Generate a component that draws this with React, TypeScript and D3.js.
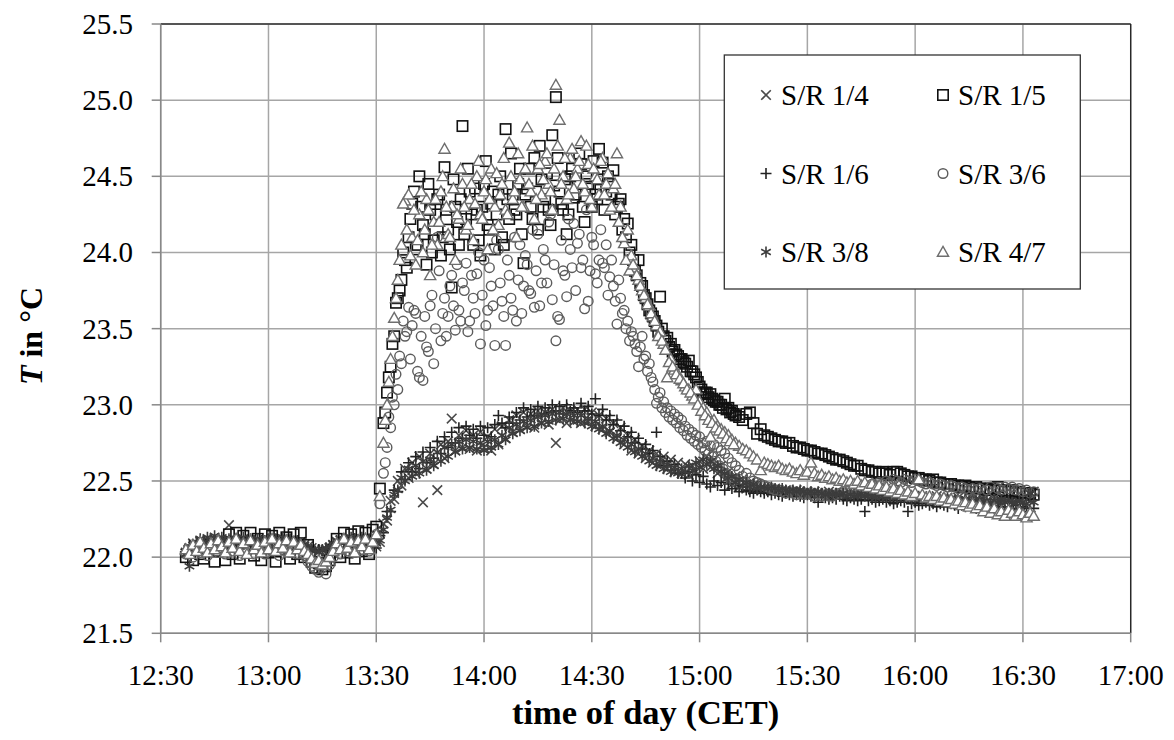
import React from "react";
import * as d3 from "d3";

// sampling grid: one value per minute, first sample 7 minutes after 12:30
const FIRST_MINUTE = 7;
const STEP_MINUTES = 1;
// extra interleaved samples (half a minute later) for the fast-varying part of the upper sensors
const HALF_FIRST_MINUTE = 62.5;

const X_TICK_LABELS = ["12:30", "13:00", "13:30", "14:00", "14:30", "15:00", "15:30", "16:00", "16:30", "17:00"];
const Y_TICKS = [21.5, 22.0, 22.5, 23.0, 23.5, 24.0, 24.5, 25.0, 25.5];

const SR_1_4 = [
  22.03, 22.06, 22.09, 22.07, 22.10, 22.08, 22.11, 22.09, 22.12, 22.10,
  22.08, 22.11, 22.21, 22.09, 22.10, 22.08, 22.11, 22.09, 22.10, 22.08,
  22.11, 22.09, 22.10, 22.10, 22.12, 22.09, 22.11, 22.10, 22.12, 22.10,
  22.11, 22.09, 22.10, 22.08, 22.07, 22.06, 22.05, 22.04, 22.05, 22.04,
  22.06, 22.08, 22.10, 22.11, 22.10, 22.12, 22.11, 22.10, 22.12, 22.11,
  22.10, 22.12, 22.09, 22.07, 22.10, 22.22, 22.24, 22.37, 22.38, 22.50,
  22.47, 22.58, 22.52, 22.62, 22.55, 22.66, 22.36, 22.58, 22.68, 22.61,
  22.44, 22.74, 22.65, 22.76, 22.91, 22.70, 22.80, 22.72, 22.83, 22.71,
  22.80, 22.70, 22.82, 22.72, 22.79, 22.70, 22.84, 22.74, 22.86, 22.78,
  22.90, 22.82, 22.93, 22.84, 22.95, 22.86, 22.94, 22.85, 22.96, 22.88,
  22.95, 22.87, 22.97, 22.75, 22.90, 22.98, 22.88, 22.96, 22.89, 22.97,
  22.88, 22.97, 22.89, 22.95, 22.86, 22.93, 22.84, 22.91, 22.82, 22.88,
  22.78, 22.85, 22.74, 22.80, 22.70, 22.77, 22.68, 22.73, 22.65, 22.70,
  22.62, 22.68, 22.60, 22.66, 22.58, 22.64, 22.56, 22.62, 22.55, 22.61,
  22.54, 22.60, 22.56, 22.63, 22.58, 22.66, 22.59, 22.64, 22.55, 22.60,
  22.51, 22.56, 22.48, 22.53, 22.46, 22.51, 22.45, 22.49, 22.44, 22.48,
  22.45, 22.45, 22.44, 22.44, 22.45, 22.44, 22.43, 22.44, 22.43, 22.43,
  22.44, 22.43, 22.42, 22.43, 22.42, 22.43, 22.42, 22.41, 22.42, 22.43,
  22.42, 22.41, 22.42, 22.41, 22.40, 22.42, 22.41, 22.40, 22.41, 22.42,
  22.41, 22.40, 22.41, 22.40, 22.39, 22.41, 22.40, 22.39, 22.40, 22.41,
  22.40, 22.39, 22.40, 22.39, 22.38, 22.40, 22.39, 22.38, 22.39, 22.40,
  22.39, 22.38, 22.39, 22.38, 22.37, 22.39, 22.38, 22.37, 22.38, 22.39,
  22.38, 22.37, 22.38, 22.37, 22.36, 22.38, 22.37, 22.36, 22.37, 22.38,
  22.37, 22.36, 22.37, 22.36, 22.38, 22.37, 22.43,
];

const SR_1_5 = [
  22.00, 22.04, 21.98, 22.06, 22.02, 21.99, 22.05, 22.08, 21.97, 22.04,
  22.10, 21.98, 22.15, 22.02, 22.16, 21.99, 22.14, 22.06, 22.16, 22.01,
  22.12, 21.98, 22.15, 22.03, 22.14, 21.97, 22.16, 22.05, 22.13, 21.99,
  22.15, 22.02, 22.16, 22.00, 22.08, 21.97, 21.93, 21.96, 21.92, 21.94,
  21.98, 22.05, 22.12, 22.00, 22.16, 22.03, 22.15, 21.99, 22.17, 22.04,
  22.16, 22.02, 22.18, 22.20, 22.45, 22.88, 23.08, 23.25, 23.45, 23.70,
  23.82, 23.95, 24.10, 24.32, 24.02, 24.50, 24.18, 23.92, 24.28, 24.08,
  24.35, 23.98, 24.56, 24.15, 23.77, 24.30, 24.05, 24.83, 24.22, 24.40,
  24.05, 24.28, 23.98, 24.45, 24.18, 24.32, 24.02, 24.38, 24.10, 24.81,
  24.22, 24.38, 24.25, 24.55, 23.93, 24.42, 24.30, 24.62, 24.15, 24.48,
  24.35, 24.28, 24.77, 25.02, 24.40, 24.28, 24.12, 24.50, 24.36, 24.45,
  24.58, 24.20, 24.45, 24.30, 24.38, 24.68, 24.59, 24.40, 24.45, 24.54,
  24.30, 24.35, 24.22, 24.19, 24.05, 23.88, 23.95, 23.78, 23.70, 23.62,
  23.58, 23.52, 23.71, 23.45, 23.44, 23.40, 23.36, 23.32, 23.30, 23.27,
  23.29, 23.22, 23.18, 23.12, 23.07, 23.08, 23.07, 23.03, 23.02, 23.00,
  23.04, 22.98, 22.96, 22.93, 22.92, 22.90, 22.94, 22.95, 22.88, 22.81,
  22.84, 22.80, 22.79, 22.78, 22.77, 22.76, 22.76, 22.75, 22.75, 22.73,
  22.72, 22.72, 22.71, 22.70, 22.70, 22.69, 22.68, 22.68, 22.67, 22.66,
  22.65, 22.64, 22.64, 22.63, 22.62, 22.61, 22.60, 22.60, 22.58, 22.57,
  22.57, 22.56, 22.56, 22.55, 22.56, 22.55, 22.54, 22.56, 22.56, 22.55,
  22.54, 22.53, 22.53, 22.52, 22.52, 22.51, 22.51, 22.50, 22.51, 22.49,
  22.49, 22.48, 22.48, 22.48, 22.47, 22.47, 22.46, 22.47, 22.46, 22.45,
  22.46, 22.45, 22.45, 22.44, 22.45, 22.44, 22.46, 22.44, 22.43, 22.43,
  22.44, 22.42, 22.43, 22.42, 22.42, 22.42, 22.41,
];
const SR_1_5_HALF = [
  22.95, 23.18, 23.40, 23.67, 23.75, 24.00, 23.90, 24.22, 24.40, 24.05,
  24.30, 24.12, 24.45, 24.00, 24.25, 24.38, 24.10, 24.28, 24.02, 24.48,
  24.20, 24.35, 24.12, 24.55, 24.25, 24.42, 24.08, 24.30, 24.60, 24.15,
  24.40, 24.25, 24.50, 24.05, 24.35, 24.65, 24.28, 24.45, 24.12, 24.38,
  24.55, 24.22, 24.40, 24.70, 24.30, 24.52, 24.18, 24.44, 24.62, 24.32,
  24.48, 24.25, 24.55, 24.38, 24.65, 24.30, 24.50, 24.42, 24.60, 24.35,
  24.48, 24.28, 24.50, 24.38, 24.25, 24.32, 24.15, 24.10, 24.00, 23.95,
  23.85, 23.80, 23.72, 23.66, 23.60, 23.55, 23.48, 23.50, 23.42, 23.38,
  23.35, 23.33, 23.30, 23.28, 23.25, 23.22, 23.20, 23.15, 23.10, 23.08,
  23.05, 23.04, 23.02, 23.00, 22.98, 22.97, 22.95, 22.94,
];

const SR_1_6 = [
  22.05, 22.08, 22.07, 22.10, 22.09, 22.11, 22.08, 22.10, 22.09, 22.12,
  22.10, 22.09, 22.11, 22.10, 22.08, 22.10, 22.09, 22.11, 22.08, 22.10,
  22.09, 22.11, 22.08, 22.10, 22.09, 22.11, 22.10, 22.09, 22.11, 22.08,
  22.10, 22.08, 22.09, 22.07, 22.05, 22.04, 22.03, 22.05, 22.04, 22.06,
  22.05, 22.07, 22.09, 22.10, 22.09, 22.11, 22.10, 22.12, 22.10, 22.11,
  22.09, 22.11, 22.10, 22.06, 22.14, 22.16, 22.30, 22.30, 22.44, 22.43,
  22.56, 22.51, 22.62, 22.56, 22.66, 22.58, 22.69, 22.62, 22.72, 22.65,
  22.76, 22.68, 22.79, 22.72, 22.82, 22.75, 22.85, 22.78, 22.86, 22.80,
  22.84, 22.78, 22.86, 22.80, 22.85, 22.79, 22.87, 22.93, 22.88, 22.85,
  22.92, 22.88, 22.95, 22.90, 22.98, 22.92, 22.97, 22.93, 22.99, 22.94,
  22.98, 22.95, 23.00, 22.96, 22.99, 22.94, 23.00, 22.96, 22.98, 22.95,
  23.01, 22.96, 22.99, 22.94, 23.04, 22.93, 22.97, 22.90, 22.93, 22.87,
  22.90, 22.83, 22.86, 22.79, 22.82, 22.75, 22.78, 22.71, 22.74, 22.68,
  22.70, 22.82, 22.66, 22.60, 22.63, 22.57, 22.61, 22.55, 22.55, 22.52,
  22.56, 22.50, 22.54, 22.49, 22.53, 22.48, 22.46, 22.50, 22.47, 22.49,
  22.44, 22.48, 22.45, 22.47, 22.43, 22.46, 22.44, 22.43, 22.42, 22.44,
  22.43, 22.42, 22.43, 22.41, 22.42, 22.41, 22.40, 22.42, 22.41, 22.40,
  22.41, 22.40, 22.39, 22.41, 22.40, 22.39, 22.36, 22.40, 22.39, 22.38,
  22.39, 22.38, 22.40, 22.38, 22.37, 22.39, 22.38, 22.37, 22.38, 22.30,
  22.37, 22.38, 22.36, 22.37, 22.38, 22.36, 22.37, 22.35, 22.36, 22.37,
  22.36, 22.30, 22.35, 22.36, 22.34, 22.35, 22.36, 22.34, 22.35, 22.33,
  22.35, 22.34, 22.33, 22.35, 22.34, 22.32, 22.34, 22.33, 22.35, 22.33,
  22.32, 22.34, 22.33, 22.31, 22.33, 22.34, 22.32, 22.33, 22.31, 22.33,
  22.32, 22.34, 22.31, 22.33, 22.32, 22.30, 22.32,
];

const SR_3_6 = [
  22.02, 22.05, 22.00, 22.06, 22.03, 22.07, 22.01, 22.05, 22.08, 22.03,
  22.06, 22.02, 22.07, 22.04, 22.08, 22.01, 22.06, 22.03, 22.07, 22.02,
  22.05, 22.08, 22.02, 22.06, 22.04, 22.07, 22.01, 22.05, 22.08, 22.03,
  22.06, 22.02, 22.05, 22.01, 21.97, 21.94, 21.92, 21.90, 21.93, 21.89,
  21.95, 22.00, 22.05, 22.02, 22.08, 22.04, 22.07, 22.03, 22.09, 22.05,
  22.08, 22.04, 22.10, 22.15, 22.35, 22.55, 22.72, 22.85, 23.00, 23.10,
  23.27, 23.45, 23.64, 23.52, 23.60, 23.18, 23.16, 23.38, 23.65, 23.27,
  24.10, 23.42, 23.70, 23.58, 23.85, 23.49, 23.62, 23.80, 23.93, 23.55,
  23.70, 23.86, 23.40, 23.95, 23.62, 23.78, 23.39, 24.02, 23.68, 23.39,
  23.85, 23.62, 23.55, 24.05, 23.78, 23.92, 23.73, 23.64, 24.12, 23.80,
  23.95, 24.20, 23.69, 23.42, 23.56, 23.88, 23.71, 24.02, 24.19, 24.06,
  23.90, 23.63, 23.68, 24.10, 23.86, 23.95, 23.93, 24.05, 23.84, 23.78,
  23.53, 23.70, 23.62, 23.55, 23.48, 23.40, 23.25, 23.45, 23.32, 23.27,
  23.15, 23.01, 23.08, 23.02, 22.98, 22.96, 22.94, 22.92, 22.90, 22.86,
  22.84, 22.82, 22.80, 22.79, 22.75, 22.76, 22.73, 22.74, 22.72, 22.70,
  22.68, 22.65, 22.62, 22.60, 22.57, 22.53, 22.55, 22.52, 22.50, 22.49,
  22.48, 22.47, 22.46, 22.45, 22.44, 22.44, 22.43, 22.42, 22.43, 22.42,
  22.41, 22.42, 22.41, 22.42, 22.41, 22.40, 22.41, 22.40, 22.41, 22.40,
  22.40, 22.41, 22.42, 22.43, 22.44, 22.45, 22.44, 22.46, 22.45, 22.47,
  22.46, 22.48, 22.47, 22.49, 22.48, 22.50, 22.49, 22.51, 22.50, 22.49,
  22.51, 22.50, 22.49, 22.51, 22.50, 22.49, 22.48, 22.49, 22.48, 22.47,
  22.48, 22.47, 22.46, 22.47, 22.46, 22.45, 22.46, 22.45, 22.44, 22.45,
  22.44, 22.45, 22.43, 22.44, 22.46, 22.43, 22.45, 22.44, 22.46, 22.45,
  22.46, 22.44, 22.45, 22.43, 22.44, 22.42, 22.43,
];
const SR_3_6_HALF = [
  22.62, 22.92, 23.05, 23.20, 23.32, 23.55, 23.48, 23.30, 23.62, 23.22,
  23.45, 23.58, 23.35, 23.72, 23.50, 23.88, 23.60, 23.45, 23.78, 23.65,
  23.92, 23.55, 23.75, 23.48, 23.85, 23.60, 24.00, 23.72, 23.52, 23.90,
  23.65, 24.08, 23.80, 23.58, 23.95, 23.70, 24.10, 23.82, 23.60, 23.98,
  23.75, 24.15, 23.88, 23.65, 24.02, 23.80, 24.25, 23.92, 23.58, 24.08,
  23.85, 24.22, 23.90, 23.75, 24.12, 23.95, 24.28, 23.88, 24.05, 23.80,
  24.15, 23.90, 23.72, 23.95, 23.68, 23.82, 23.60, 23.50, 23.42, 23.45,
  23.35, 23.38, 23.30, 23.22, 23.18, 23.10, 23.05, 22.98, 22.95, 22.92,
  22.90, 22.88, 22.85, 22.83, 22.80, 22.78, 22.76, 22.74, 22.72, 22.70,
  22.68, 22.66, 22.63, 22.60, 22.58, 22.55, 22.52, 22.50,
];

const SR_3_8 = [
  22.02, 21.94, 22.08, 22.10, 22.12, 22.10, 22.13, 22.11, 22.14, 22.12,
  22.13, 22.11, 22.12, 22.10, 22.12, 22.11, 22.13, 22.10, 22.12, 22.11,
  22.12, 22.10, 22.11, 22.12, 22.10, 22.12, 22.11, 22.13, 22.11, 22.12,
  22.10, 22.11, 22.09, 22.08, 22.06, 22.05, 22.04, 22.03, 22.05, 22.06,
  22.07, 22.09, 22.11, 22.10, 22.12, 22.11, 22.13, 22.12, 22.11, 22.13,
  22.11, 22.12, 22.10, 22.09, 22.11, 22.18, 22.26, 22.31, 22.41, 22.44,
  22.52, 22.50, 22.58, 22.53, 22.60, 22.55, 22.63, 22.57, 22.64, 22.60,
  22.69, 22.63, 22.72, 22.66, 22.74, 22.69, 22.76, 22.71, 22.77, 22.72,
  22.76, 22.71, 22.75, 22.70, 22.76, 22.72, 22.77, 22.74, 22.80, 22.77,
  22.85, 22.81, 22.87, 22.83, 22.89, 22.85, 22.90, 22.86, 22.92, 22.88,
  22.93, 22.89, 22.94, 22.90, 22.95, 22.91, 22.94, 22.90, 22.93, 22.89,
  22.93, 22.88, 22.91, 22.86, 22.89, 22.84, 22.86, 22.81, 22.83, 22.78,
  22.80, 22.75, 22.77, 22.72, 22.74, 22.69, 22.71, 22.66, 22.68, 22.63,
  22.65, 22.60, 22.63, 22.58, 22.61, 22.56, 22.59, 22.55, 22.58, 22.56,
  22.60, 22.57, 22.62, 22.59, 22.64, 22.61, 22.63, 22.58, 22.60, 22.56,
  22.55, 22.52, 22.53, 22.49, 22.51, 22.47, 22.49, 22.46, 22.48, 22.45,
  22.46, 22.46, 22.45, 22.46, 22.45, 22.44, 22.45, 22.44, 22.43, 22.44,
  22.43, 22.44, 22.43, 22.42, 22.43, 22.42, 22.43, 22.42, 22.41, 22.42,
  22.41, 22.42, 22.41, 22.42, 22.40, 22.41, 22.40, 22.41, 22.42, 22.40,
  22.41, 22.40, 22.39, 22.41, 22.40, 22.39, 22.40, 22.41, 22.39, 22.40,
  22.39, 22.40, 22.38, 22.39, 22.40, 22.38, 22.39, 22.37, 22.38, 22.39,
  22.38, 22.37, 22.39, 22.38, 22.37, 22.38, 22.36, 22.38, 22.37, 22.36,
  22.37, 22.38, 22.36, 22.37, 22.35, 22.37, 22.36, 22.38, 22.36, 22.37,
  22.36, 22.35, 22.37, 22.36, 22.35, 22.42, 22.36,
];

const SR_4_7 = [
  22.05, 22.02, 22.08, 22.04, 22.10, 22.06, 22.03, 22.09, 22.05, 22.11,
  22.07, 22.03, 22.10, 22.06, 22.12, 22.04, 22.09, 22.02, 22.11, 22.05,
  22.08, 22.03, 22.10, 22.05, 22.12, 22.04, 22.09, 22.06, 22.11, 22.03,
  22.10, 22.05, 22.08, 22.04, 22.02, 21.99, 21.96, 21.98, 21.95, 21.97,
  22.00, 22.04, 22.09, 22.05, 22.12, 22.06, 22.10, 22.03, 22.11, 22.07,
  22.12, 22.05, 22.10, 22.15, 22.40, 22.75, 23.00, 23.30, 23.57, 23.82,
  24.05, 24.34, 24.38, 24.10, 23.92, 24.25, 24.00, 24.35, 23.85, 24.20,
  24.05, 24.40, 24.68, 24.12, 24.30, 23.95, 24.22, 24.45, 24.15, 24.35,
  24.08, 24.50, 24.25, 24.40, 24.02, 24.55, 24.30, 24.18, 24.45, 24.28,
  24.72, 24.35, 24.10, 24.48, 24.30, 24.82, 24.40, 24.22, 24.55, 24.38,
  24.60, 24.45, 24.28, 25.10, 24.87, 24.50, 24.35, 24.62, 24.42, 24.55,
  24.73, 24.40, 24.58, 24.30, 24.50, 24.38, 24.62, 24.45, 24.28, 24.42,
  24.65, 24.30, 24.06, 24.15, 23.98, 23.90, 23.82, 23.75, 23.70, 23.65,
  23.58, 23.52, 23.48, 23.40, 23.18, 23.30, 23.23, 23.20, 23.16, 23.12,
  23.10, 23.06, 23.10, 23.02, 22.98, 22.95, 22.79, 22.90, 22.86, 22.84,
  22.82, 22.80, 22.77, 22.75, 22.73, 22.71, 22.70, 22.68, 22.66, 22.64,
  22.57, 22.62, 22.61, 22.60, 22.59, 22.60, 22.58, 22.57, 22.58, 22.56,
  22.55, 22.57, 22.54, 22.56, 22.62, 22.55, 22.53, 22.54, 22.52, 22.53,
  22.51, 22.52, 22.50, 22.51, 22.49, 22.50, 22.48, 22.50, 22.47, 22.49,
  22.46, 22.48, 22.45, 22.47, 22.44, 22.46, 22.43, 22.45, 22.42, 22.44,
  22.41, 22.43, 22.40, 22.42, 22.51, 22.41, 22.39, 22.40, 22.38, 22.40,
  22.37, 22.39, 22.36, 22.38, 22.35, 22.37, 22.34, 22.36, 22.33, 22.35,
  22.32, 22.34, 22.30, 22.33, 22.29, 22.32, 22.28, 22.30, 22.27, 22.31,
  22.29, 22.27, 22.30, 22.28, 22.26, 22.29, 22.27,
];
const SR_4_7_HALF = [
  22.90, 23.15, 23.45, 23.70, 23.95, 24.32, 24.15, 23.98, 24.28, 24.08,
  24.40, 24.15, 24.28, 24.05, 24.35, 24.20, 24.50, 24.30, 24.10, 24.42,
  24.25, 24.55, 24.30, 24.18, 24.45, 24.32, 24.60, 24.22, 24.48, 24.35,
  24.15, 24.52, 24.38, 24.62, 24.25, 24.50, 24.40, 24.65, 24.30, 24.55,
  24.45, 24.70, 24.35, 24.58, 24.48, 24.65, 24.40, 24.55, 24.70, 24.45,
  24.62, 24.38, 24.68, 24.50, 24.60, 24.45, 24.70, 24.35, 24.55, 24.48,
  24.60, 24.38, 24.52, 24.30, 24.45, 24.20, 24.10, 23.95, 23.88, 23.92,
  23.85, 23.78, 23.72, 23.66, 23.60, 23.55, 23.45, 23.42, 23.36, 23.28,
  23.25, 23.20, 23.17, 23.14, 23.10, 23.08, 23.04, 23.00, 22.96, 22.93,
  22.90, 22.88, 22.85, 22.83, 22.81, 22.78, 22.76, 22.74,
];

type MarkerKind = "cross" | "square" | "plus" | "circle" | "star" | "triangle";

const SERIES: { name: string; values: number[]; half: number[]; marker: MarkerKind }[] = [
  { name: "S/R 1/4", values: SR_1_4, half: [], marker: "cross" },
  { name: "S/R 1/5", values: SR_1_5, half: SR_1_5_HALF, marker: "square" },
  { name: "S/R 1/6", values: SR_1_6, half: [], marker: "plus" },
  { name: "S/R 3/6", values: SR_3_6, half: SR_3_6_HALF, marker: "circle" },
  { name: "S/R 3/8", values: SR_3_8, half: [], marker: "star" },
  { name: "S/R 4/7", values: SR_4_7, half: SR_4_7_HALF, marker: "triangle" },
];

const FONT = '"Liberation Serif", "Times New Roman", Tinos, "Nimbus Roman", "DejaVu Serif", serif';

function Marker({ kind, cx, cy }: { kind: MarkerKind; cx: number; cy: number }) {
  const t = `translate(${cx},${cy})`;
  switch (kind) {
    case "cross":
      return <path transform={t} d="M-4.8,-4.8L4.8,4.8M-4.8,4.8L4.8,-4.8" stroke="#4a4a4a" strokeWidth={1.6} fill="none" />;
    case "plus":
      return <path transform={t} d="M-5.5,0H5.5M0,-5.5V5.5" stroke="#222" strokeWidth={1.6} fill="none" />;
    case "star":
      return <path transform={t} d="M0,-5.5V5.5M-4.8,-2.8L4.8,2.8M-4.8,2.8L4.8,-2.8" stroke="#3c3c3c" strokeWidth={1.6} fill="none" />;
    case "square":
      return <rect transform={t} x={-5.2} y={-5.2} width={10.4} height={10.4} stroke="#111" strokeWidth={1.6} fill="none" />;
    case "circle":
      return <circle transform={t} r={4.8} stroke="#5c5c5c" strokeWidth={1.4} fill="none" />;
    case "triangle":
      return <path transform={t} d="M0,-5.6L5.6,4.3L-5.6,4.3Z" stroke="#6e6e6e" strokeWidth={1.4} fill="#fff" />;
  }
}

const txt = { fontFamily: FONT };

export default function App() {
  const left = 160.7, right = 1130.7, top = 24, bottom = 633.3;
  const x = d3.scaleLinear().domain([0, 270]).range([left, right]);
  const y = d3.scaleLinear().domain([21.5, 25.5]).range([bottom, top]);
  const fmt = d3.format(".1f");
  const xTickMinutes = X_TICK_LABELS.map((_, i) => i * 30);

  const legendRows = [
    [SERIES[0], SERIES[1]],
    [SERIES[2], SERIES[3]],
    [SERIES[4], SERIES[5]],
  ];
  const legendRowY = d3.scalePoint<number>().domain([0, 1, 2]).range([95, 252]);

  return (
    <svg width={1174} height={740} style={{ position: "absolute", left: 0, top: 0, background: "#fff" }}>
      <rect x={0} y={0} width={1174} height={740} fill="#fff" />
      {/* gridlines */}
      {Y_TICKS.map((v) => (
        <line key={"gy" + v} x1={left} x2={right} y1={y(v)} y2={y(v)} stroke="#a6a6a6" strokeWidth={1.5} />
      ))}
      {xTickMinutes.map((m) => (
        <line key={"gx" + m} x1={x(m)} x2={x(m)} y1={top} y2={bottom} stroke="#a6a6a6" strokeWidth={1.5} />
      ))}
      {/* plot border top & right */}
      <line x1={left} x2={right} y1={top} y2={top} stroke="#333" strokeWidth={1.3} />
      <line x1={right} x2={right} y1={top} y2={bottom} stroke="#222" strokeWidth={1.3} />
      {/* axes */}
      <line x1={left} x2={left} y1={top} y2={bottom} stroke="#888" strokeWidth={1.5} />
      <line x1={left} x2={right} y1={bottom} y2={bottom} stroke="#888" strokeWidth={1.5} />
      {Y_TICKS.map((v) => (
        <g key={"ty" + v}>
          <line x1={left - 9} x2={left} y1={y(v)} y2={y(v)} stroke="#888" strokeWidth={1.5} />
          <text x={133} y={y(v) + 10} textAnchor="end" fontSize={29} fill="#000" style={txt}>{fmt(v)}</text>
        </g>
      ))}
      {xTickMinutes.map((m, i) => (
        <g key={"tx" + m}>
          <line x1={x(m)} x2={x(m)} y1={bottom} y2={bottom + 9} stroke="#888" strokeWidth={1.5} />
          <text x={x(m)} y={bottom + 52} textAnchor="middle" fontSize={29} fill="#000" style={txt}>{X_TICK_LABELS[i]}</text>
        </g>
      ))}
      {/* data */}
      {SERIES.map((s) => (
        <g key={s.name}>
          {s.values.map((v, i) => (
            <Marker key={"a" + i} kind={s.marker} cx={x(FIRST_MINUTE + i * STEP_MINUTES)} cy={y(v)} />
          ))}
          {s.half.map((v, i) => (
            <Marker key={"b" + i} kind={s.marker} cx={x(HALF_FIRST_MINUTE + i * STEP_MINUTES)} cy={y(v)} />
          ))}
        </g>
      ))}
      {/* legend */}
      <rect x={724.3} y={55} width={356} height={234} fill="#fff" stroke="#333" strokeWidth={1.3} />
      {legendRows.map((row, r) => (
        <g key={"lr" + r}>
          {row.map((s, c) => {
            const mx = c === 0 ? 766 : 943;
            const cy = legendRowY(r) as number;
            return (
              <g key={s.name}>
                <Marker kind={s.marker} cx={mx} cy={cy} />
                <text x={mx + 15} y={cy + 10} fontSize={29} fill="#000" style={txt}>{s.name}</text>
              </g>
            );
          })}
        </g>
      ))}
      {/* axis titles */}
      <text x={(left + right) / 2} y={723.5} textAnchor="middle" fontSize={34.5} fontWeight="bold" fill="#000" style={txt}>time of day (CET)</text>
      <text transform={`translate(42,336) rotate(-90)`} textAnchor="middle" fontSize={32} fontWeight="bold" fill="#000" style={txt}>
        <tspan fontStyle="italic">T</tspan> in °C
      </text>
    </svg>
  );
}
